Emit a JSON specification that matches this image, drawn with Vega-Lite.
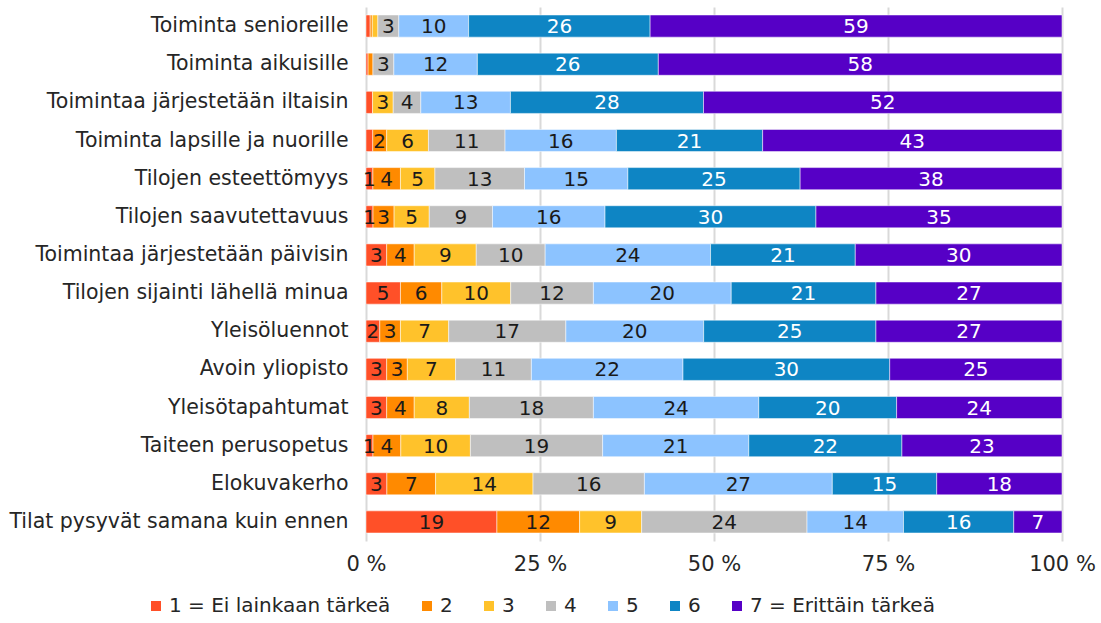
{
  "$schema": "https://vega.github.io/schema/vega-lite/v6.json",
  "width": 696,
  "height": 534,
  "autosize": {"type": "none"},
  "padding": {"left": 366, "top": 7, "right": 39, "bottom": 82},
  "background": "white",
  "config": {
    "view": {"stroke": null},
    "font": "DejaVu Sans",
    "text": {"font": "DejaVu Sans"}
  },
  "data": {
    "values": [
      {"kohde": "Toiminta senioreille", "1 = Ei lainkaan tärkeä": 0.6, "2": 0.3, "3": 0.8, "4": 3, "5": 10, "6": 26, "7 = Erittäin tärkeä": 59},
      {"kohde": "Toiminta aikuisille", "1 = Ei lainkaan tärkeä": 0.3, "2": 0.7, "3": 0, "4": 3, "5": 12, "6": 26, "7 = Erittäin tärkeä": 58},
      {"kohde": "Toimintaa järjestetään iltaisin", "1 = Ei lainkaan tärkeä": 0.95, "2": 0, "3": 3, "4": 4, "5": 13, "6": 28, "7 = Erittäin tärkeä": 52},
      {"kohde": "Toiminta lapsille ja nuorille", "1 = Ei lainkaan tärkeä": 0.97, "2": 2, "3": 6, "4": 11, "5": 16, "6": 21, "7 = Erittäin tärkeä": 43},
      {"kohde": "Tilojen esteettömyys", "1 = Ei lainkaan tärkeä": 1, "2": 4, "3": 5, "4": 13, "5": 15, "6": 25, "7 = Erittäin tärkeä": 38},
      {"kohde": "Tilojen saavutettavuus", "1 = Ei lainkaan tärkeä": 1, "2": 3, "3": 5, "4": 9, "5": 16, "6": 30, "7 = Erittäin tärkeä": 35},
      {"kohde": "Toimintaa järjestetään päivisin", "1 = Ei lainkaan tärkeä": 3, "2": 4, "3": 9, "4": 10, "5": 24, "6": 21, "7 = Erittäin tärkeä": 30},
      {"kohde": "Tilojen sijainti lähellä minua", "1 = Ei lainkaan tärkeä": 5, "2": 6, "3": 10, "4": 12, "5": 20, "6": 21, "7 = Erittäin tärkeä": 27},
      {"kohde": "Yleisöluennot", "1 = Ei lainkaan tärkeä": 2, "2": 3, "3": 7, "4": 17, "5": 20, "6": 25, "7 = Erittäin tärkeä": 27},
      {"kohde": "Avoin yliopisto", "1 = Ei lainkaan tärkeä": 3, "2": 3, "3": 7, "4": 11, "5": 22, "6": 30, "7 = Erittäin tärkeä": 25},
      {"kohde": "Yleisötapahtumat", "1 = Ei lainkaan tärkeä": 3, "2": 4, "3": 8, "4": 18, "5": 24, "6": 20, "7 = Erittäin tärkeä": 24},
      {"kohde": "Taiteen perusopetus", "1 = Ei lainkaan tärkeä": 1, "2": 4, "3": 10, "4": 19, "5": 21, "6": 22, "7 = Erittäin tärkeä": 23},
      {"kohde": "Elokuvakerho", "1 = Ei lainkaan tärkeä": 3, "2": 7, "3": 14, "4": 16, "5": 27, "6": 15, "7 = Erittäin tärkeä": 18},
      {"kohde": "Tilat pysyvät samana kuin ennen", "1 = Ei lainkaan tärkeä": 19, "2": 12, "3": 9, "4": 24, "5": 14, "6": 16, "7 = Erittäin tärkeä": 7}
    ]
  },
  "transform": [
    {"fold": ["1 = Ei lainkaan tärkeä", "2", "3", "4", "5", "6", "7 = Erittäin tärkeä"], "as": ["taso", "arvo"]},
    {"filter": "datum.arvo > 0"},
    {"stack": "arvo", "groupby": ["kohde"], "sort": [{"field": "taso", "order": "ascending"}], "offset": "normalize", "as": ["x0", "x1"]},
    {"calculate": "(datum.x0 + datum.x1) / 2", "as": "xm"}
  ],
  "encoding": {
    "y": {
      "field": "kohde",
      "type": "nominal",
      "sort": null,
      "title": null,
      "scale": {"paddingInner": 0.42, "paddingOuter": 0.21},
      "axis": {
        "ticks": false,
        "domain": false,
        "labelFontSize": 20.5,
        "labelColor": "#262626",
        "labelPadding": 18,
        "labelLimit": 400,
        "labelFont": "DejaVu Sans"
      }
    }
  },
  "layer": [
    {
      "mark": {"type": "bar", "stroke": "white", "strokeWidth": 0.5},
      "encoding": {
        "x": {
          "field": "x0",
          "type": "quantitative",
          "scale": {"domain": [0, 1], "nice": false},
          "title": null,
          "axis": {
            "values": [0, 0.25, 0.5, 0.75, 1],
            "labelExpr": "format(datum.value * 100, 'd') + ' %'",
            "labelFlush": false,
            "ticks": false,
            "domain": false,
            "grid": true,
            "gridColor": "#d9d9d9",
            "gridWidth": 2,
            "labelFontSize": 21,
            "labelColor": "#262626",
            "labelPadding": 12,
            "labelFont": "DejaVu Sans"
          }
        },
        "x2": {"field": "x1"},
        "color": {
          "field": "taso",
          "type": "nominal",
          "scale": {
            "domain": ["1 = Ei lainkaan tärkeä", "2", "3", "4", "5", "6", "7 = Erittäin tärkeä"],
            "range": ["#FF5028", "#FF8A00", "#FFC22B", "#BFBFBF", "#8CC3FF", "#0E85C4", "#5600C6"]
          },
          "legend": {
            "title": null,
            "orient": "none",
            "direction": "horizontal",
            "legendX": -220,
            "legendY": 589,
            "symbolType": "square",
            "symbolSize": 100,
            "symbolStrokeWidth": 0,
            "labelFontSize": 20,
            "labelColor": "#262626",
            "labelFont": "DejaVu Sans",
            "labelOffset": 3,
            "columnPadding": 26,
            "labelLimit": 300
          }
        }
      }
    },
    {
      "transform": [{"filter": "datum.arvo >= 1"}],
      "mark": {"type": "text", "fontSize": 20, "baseline": "middle", "dy": 1, "font": "DejaVu Sans"},
      "encoding": {
        "x": {"field": "xm", "type": "quantitative"},
        "text": {"field": "arvo", "type": "quantitative", "format": ".0f"},
        "color": {
          "condition": {"test": "datum.taso == '6' || datum.taso == '7 = Erittäin tärkeä'", "value": "white"},
          "value": "#1a1a1a"
        }
      }
    }
  ]
}
